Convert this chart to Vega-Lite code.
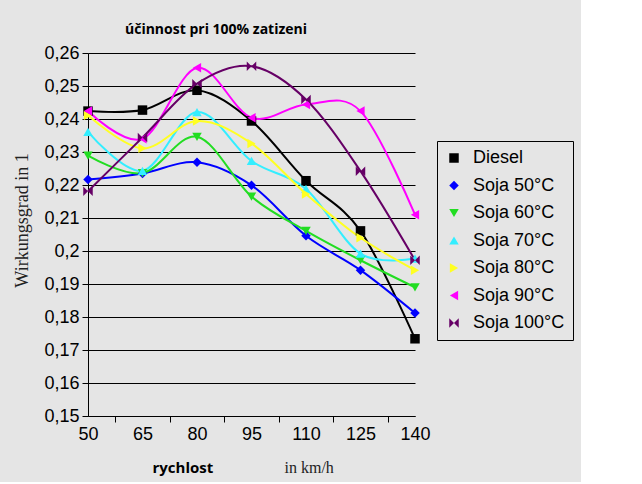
{
  "$schema": "https://vega.github.io/schema/vega-lite/v6.json",
  "autosize": {"type": "none"},
  "width": 327,
  "height": 363,
  "padding": {"left": 88, "top": 53, "right": 166, "bottom": 66},
  "background": "#e5e5e5",
  "title": {
    "text": "účinnost pri 100% zatizeni",
    "anchor": "start",
    "frame": "group",
    "dx": 37,
    "dy": 5,
    "offset": 12,
    "font": "Open Sans",
    "fontSize": 14,
    "fontWeight": "bold",
    "color": "black"
  },
  "config": {
    "view": {"stroke": null},
    "legend": {
      "orient": "none",
      "legendX": 349,
      "legendY": 88,
      "strokeColor": "black",
      "strokeWidth": 1,
      "padding": 8,
      "rowPadding": 9.5,
      "labelFont": "Liberation Sans",
      "labelFontSize": 18,
      "labelColor": "black",
      "labelOffset": 10,
      "symbolSize": 90,
      "symbolStrokeWidth": 0,
      "title": null
    }
  },
  "data": {
    "values": [
      {"series": "Diesel", "speed": 50, "eff": 0.2424},
      {"series": "Diesel", "speed": 65, "eff": 0.2427},
      {"series": "Diesel", "speed": 80, "eff": 0.2487},
      {"series": "Diesel", "speed": 95, "eff": 0.2394},
      {"series": "Diesel", "speed": 110, "eff": 0.2213},
      {"series": "Diesel", "speed": 125, "eff": 0.2061},
      {"series": "Diesel", "speed": 140, "eff": 0.1734},
      {"series": "Soja 50°C", "speed": 50, "eff": 0.2217},
      {"series": "Soja 50°C", "speed": 65, "eff": 0.2235},
      {"series": "Soja 50°C", "speed": 80, "eff": 0.2269},
      {"series": "Soja 50°C", "speed": 95, "eff": 0.2199},
      {"series": "Soja 50°C", "speed": 110, "eff": 0.2046},
      {"series": "Soja 50°C", "speed": 125, "eff": 0.1942},
      {"series": "Soja 50°C", "speed": 140, "eff": 0.1812},
      {"series": "Soja 60°C", "speed": 50, "eff": 0.2289},
      {"series": "Soja 60°C", "speed": 65, "eff": 0.2236},
      {"series": "Soja 60°C", "speed": 80, "eff": 0.2346},
      {"series": "Soja 60°C", "speed": 95, "eff": 0.2165},
      {"series": "Soja 60°C", "speed": 110, "eff": 0.2061},
      {"series": "Soja 60°C", "speed": 125, "eff": 0.1972},
      {"series": "Soja 60°C", "speed": 140, "eff": 0.189},
      {"series": "Soja 70°C", "speed": 50, "eff": 0.2361},
      {"series": "Soja 70°C", "speed": 65, "eff": 0.2243},
      {"series": "Soja 70°C", "speed": 80, "eff": 0.2421},
      {"series": "Soja 70°C", "speed": 95, "eff": 0.2273},
      {"series": "Soja 70°C", "speed": 110, "eff": 0.2188},
      {"series": "Soja 70°C", "speed": 125, "eff": 0.1992},
      {"series": "Soja 70°C", "speed": 140, "eff": 0.1977},
      {"series": "Soja 80°C", "speed": 50, "eff": 0.2411},
      {"series": "Soja 80°C", "speed": 65, "eff": 0.2311},
      {"series": "Soja 80°C", "speed": 80, "eff": 0.2394},
      {"series": "Soja 80°C", "speed": 95, "eff": 0.2326},
      {"series": "Soja 80°C", "speed": 110, "eff": 0.2173},
      {"series": "Soja 80°C", "speed": 125, "eff": 0.204},
      {"series": "Soja 80°C", "speed": 140, "eff": 0.1942},
      {"series": "Soja 90°C", "speed": 50, "eff": 0.2424},
      {"series": "Soja 90°C", "speed": 65, "eff": 0.234},
      {"series": "Soja 90°C", "speed": 80, "eff": 0.2555},
      {"series": "Soja 90°C", "speed": 95, "eff": 0.2404},
      {"series": "Soja 90°C", "speed": 110, "eff": 0.2444},
      {"series": "Soja 90°C", "speed": 125, "eff": 0.2424},
      {"series": "Soja 90°C", "speed": 140, "eff": 0.211},
      {"series": "Soja 100°C", "speed": 50, "eff": 0.2181},
      {"series": "Soja 100°C", "speed": 65, "eff": 0.2344},
      {"series": "Soja 100°C", "speed": 80, "eff": 0.2507},
      {"series": "Soja 100°C", "speed": 95, "eff": 0.256},
      {"series": "Soja 100°C", "speed": 110, "eff": 0.2459},
      {"series": "Soja 100°C", "speed": 125, "eff": 0.2242},
      {"series": "Soja 100°C", "speed": 140, "eff": 0.1972}
    ]
  },
  "encoding": {
    "y": {
      "field": "eff",
      "type": "quantitative",
      "scale": {"domain": [0.15, 0.26], "nice": false, "zero": false},
      "axis": {
        "values": [0.15, 0.16, 0.17, 0.18, 0.19, 0.2, 0.21, 0.22, 0.23, 0.24, 0.25, 0.26],
        "labelExpr": "replace(format(datum.value, '.2~f'), '.', ',')",
        "labelFlush": false,
        "grid": true,
        "gridColor": "black",
        "gridOpacity": 1,
        "gridWidth": 1,
        "domainColor": "black",
        "tickColor": "black",
        "tickSize": 6,
        "labelPadding": 3,
        "labelFont": "Liberation Sans",
        "labelFontSize": 18,
        "labelColor": "black",
        "title": "Wirkungsgrad in 1",
        "titleFont": "Liberation Serif",
        "titleFontSize": 18,
        "titleFontWeight": "normal",
        "titleColor": "#222222",
        "titleAngle": -90,
        "titleAlign": "center",
        "titleBaseline": "middle",
        "titleX": -66,
        "titleY": 167
      }
    },
    "color": {
      "field": "series",
      "type": "nominal",
      "sort": ["Diesel", "Soja 50°C", "Soja 60°C", "Soja 70°C", "Soja 80°C", "Soja 90°C", "Soja 100°C"],
      "scale": {
        "domain": ["Diesel", "Soja 50°C", "Soja 60°C", "Soja 70°C", "Soja 80°C", "Soja 90°C", "Soja 100°C"],
        "range": ["#000000", "#0000ff", "#22dd22", "#33eeff", "#ffff22", "#ff00ff", "#660066"]
      }
    }
  },
  "layer": [
    {
      "mark": {"type": "line", "interpolate": "cardinal", "strokeWidth": 2},
      "encoding": {
        "x": {
          "field": "speed",
          "type": "quantitative",
          "scale": {"domain": [50, 140], "nice": false, "zero": false},
          "axis": {
            "orient": "bottom",
            "values": [50, 65, 80, 95, 110, 125, 140],
            "labelFlush": false,
            "labelOverlap": false,
            "ticks": false,
            "tickSize": 0,
            "labelPadding": 9,
            "grid": false,
            "domainColor": "black",
            "labelFont": "Liberation Sans",
            "labelFontSize": 18,
            "labelColor": "black",
            "title": "rychlost",
            "titleFont": "Open Sans",
            "titleFontWeight": "bold",
            "titleFontSize": 15,
            "titleColor": "black",
            "titleAlign": "left",
            "titleBaseline": "alphabetic",
            "titleAnchor": "start",
            "titleX": 64,
            "titleY": 56
          }
        }
      }
    },
    {
      "mark": {"type": "point", "filled": true, "size": 90, "opacity": 1, "strokeWidth": 0},
      "encoding": {
        "x": {
          "field": "speed",
          "type": "quantitative",
          "scale": {"domain": [50, 140], "nice": false, "zero": false},
          "axis": {
            "orient": "bottom",
            "values": [57.5, 72.5, 87.5, 102.5, 117.5, 132.5],
            "labels": false,
            "ticks": true,
            "tickSize": 6,
            "tickColor": "black",
            "domain": false,
            "grid": false,
            "title": "in km/h",
            "titleFont": "Liberation Serif",
            "titleFontWeight": "normal",
            "titleFontSize": 16,
            "titleColor": "#222222",
            "titleAlign": "left",
            "titleBaseline": "alphabetic",
            "titleAnchor": "start",
            "titleX": 196,
            "titleY": 56
          }
        },
        "shape": {
          "field": "series",
          "type": "nominal",
          "sort": ["Diesel", "Soja 50°C", "Soja 60°C", "Soja 70°C", "Soja 80°C", "Soja 90°C", "Soja 100°C"],
          "scale": {
            "domain": ["Diesel", "Soja 50°C", "Soja 60°C", "Soja 70°C", "Soja 80°C", "Soja 90°C", "Soja 100°C"],
            "range": ["square", "diamond", "triangle-down", "triangle-up", "triangle-right", "triangle-left", "M-1,-1L0,0L-1,1Z M1,-1L0,0L1,1Z"]
          }
        }
      }
    }
  ],
  "resolve": {"scale": {"x": "independent"}, "axis": {"x": "independent"}}
}
